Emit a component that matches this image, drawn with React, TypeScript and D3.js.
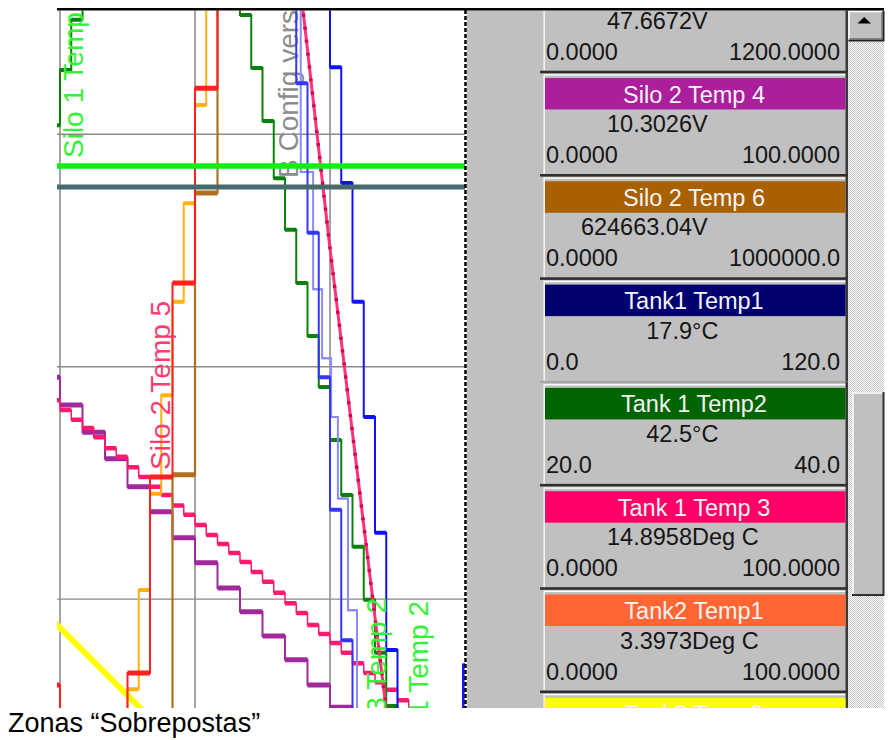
import React from "react";
import * as d3 from "d3";

type Pt = [number, number];

// x: sample index (grid every 12 samples), y: percent of the visible trend band
const gridTimes = [0, 12, 24];
const gridLevels = [15.6, 48.9, 82.2];

const greenSteps: Pt[] = [[-2, 83.5], [0, 91.4], [1, 98.6], [2, 110], [16, 99.3], [17, 91.7], [18, 84.1], [19, 75.9], [20, 68.5], [21, 60.9], [22, 53.3], [23, 46.0], [24, 38.4], [25, 30.5], [26, 23.1], [27, 15.5], [28, 7.9], [29, 0.3], [30, -8], [32, -8]];
const purpleSteps: Pt[] = [[-2, 47.4], [0, 43.4], [2, 39.5], [4, 35.7], [6, 31.7], [8, 28.1], [10, 24.4], [12, 20.8], [14, 17.2], [16, 13.8], [18, 10.3], [20, 6.9], [22, 3.3], [24, 0.1], [26, -3.4], [28, -3.4]];
const pinkSteps: Pt[] = [[-1, 44.1], [0, 42.7], [1, 41.3], [2, 40.1], [3, 38.8], [4, 37.2], [5, 36.0], [6, 34.5], [7, 33.1], [8, 31.7], [9, 30.5], [10, 29.0], [11, 27.7], [12, 26.2], [13, 24.8], [14, 23.5], [15, 22.2], [16, 20.9], [17, 19.5], [18, 18.1], [19, 16.5], [20, 15.0], [21, 13.6], [22, 11.9], [23, 10.6], [24, 9.3], [25, 7.9], [26, 6.4], [27, 5.0], [28, 3.7], [29, 2.6], [30, 1.1], [31, -0.3], [32, -1.7], [33, -1.7]];
const redSteps: Pt[] = [[-2, 3.3], [0, -5], [6, 5.0], [8, 33.1], [10, 60.9], [12, 88.8], [14, 110], [16, 110]];
const orangeSteps: Pt[] = [[4, -5], [6, 2.7], [7, 16.9], [8, 30.7], [9, 44.8], [10, 58.2], [11, 72.3], [12, 86.4], [13, 110], [15, 110]];
const brownSteps: Pt[] = [[6, -5], [10, 33.4], [12, 73.8], [14, 110], [16, 110]];
const blueSteps: Pt[] = [[22, 110], [24, 91.8], [25, 75.2], [26, 58.2], [27, 41.7], [28, 25.1], [29, 8.3], [30, -8], [32, -8]];
const blueEdgeSteps: Pt[] = [[34, -5], [35.85, 6.2], [37, 6.2]];
const blueMidSteps: Pt[] = [[20, 110], [21, 89.5], [22, 68.1], [23, 47.4], [24, 28.4], [25, 9.7], [26, -8], [28, -8]];
const blueLightSteps: Pt[] = [[20.9, 110], [21.4, 76.8], [22.5, 60.0], [23.3, 50.1], [24.1, 41.7], [24.7, 30.0], [25.6, 14.0], [26.4, -5], [28, -5]];
const pinkRamp: Pt[] = [[21.24, 105], [21.6, 100], [23.91, 67.05], [26.4, 34.1], [28.98, 0], [29.36, -5]];
const yellowRamp: Pt[] = [[-1, 13.1], [8, -1.4]];
const greenLevel: Pt[] = [[-1, 77.65], [37, 77.65]];
const slateLevel: Pt[] = [[-1, 74.64], [37, 74.64]];

const cardNames = ["Silo 2 Temp 3", "Silo 2 Temp 4", "Silo 2 Temp 6", "Tank1 Temp1", "Tank 1 Temp2", "Tank 1 Temp 3", "Tank2 Temp1", "Tank2 Temp2"];
const cardValues = ["47.6672", "10.3026", "624663.04", "17.9", "42.5", "14.8958", "3.3973", "0.0000"];
const cardUnits = ["V", "V", "V", "°C", "°C", "Deg C", "Deg C", "Deg C"];
const cardMins = ["0.0000", "0.0000", "0.0000", "0.0", "20.0", "0.0000", "0.0000", "0.0000"];
const cardMaxs = ["1200.0000", "100.0000", "1000000.0", "120.0", "40.0", "100.0000", "100.0000", "100.0000"];
const cardColors = ["#7a7a7a", "#ab1f9c", "#a86000", "#000070", "#006400", "#ff0066", "#ff6633", "#ffff00"];

const caption = "Zonas “Sobrepostas”";

const FONT = "'Liberation Sans', Arial, sans-serif";
const x = d3.scaleLinear().domain([-0.267, 36]).range([57, 465]);
const y = d3.scaleLinear().domain([0, 100]).range([708, 10]);

function StepSeries({ data, color, hw = 4, vw = 2 }: { data: Pt[]; color: string; hw?: number; vw?: number }) {
  const thin = d3.line<Pt>().x((d) => x(d[0])).y((d) => y(d[1])).curve(d3.curveStepAfter)(data) || "";
  const p = d3.path();
  for (let i = 0; i < data.length - 1; i++) {
    p.moveTo(x(data[i][0]), y(data[i][1]));
    p.lineTo(x(data[i + 1][0]), y(data[i][1]));
  }
  return (
    <g>
      <path d={thin} stroke={color} strokeWidth={vw} fill="none" />
      <path d={p.toString()} stroke={color} strokeWidth={hw} fill="none" />
    </g>
  );
}

function LineSeries({ data, color, w, dash }: { data: Pt[]; color: string; w: number; dash?: string }) {
  const d = d3.line<Pt>().x((p) => x(p[0])).y((p) => y(p[1]))(data) || "";
  return <path d={d} stroke={color} strokeWidth={w} fill="none" strokeDasharray={dash} />;
}

function RotLabel({ tx, ty, text, color, anchor = "start", size = 28 }: { tx: number; ty: number; text: string; color: string; anchor?: string; size?: number }) {
  return (
    <text transform={`translate(${tx},${ty}) rotate(-90)`} fontFamily={FONT} fontSize={size} fill={color} textAnchor={anchor}>
      {text}
    </text>
  );
}

const SEP0 = 72;
const PITCH = 103.3;

export default function App() {
  return (
    <svg width={888} height={740} style={{ position: "absolute", left: 0, top: 0 }} xmlns="http://www.w3.org/2000/svg">
      <defs>
        <clipPath id="plotClip">
          <rect x={57} y={10.5} width={408} height={697.5} />
        </clipPath>
        <clipPath id="panelClip">
          <rect x={467} y={10.5} width={421} height={697.5} />
        </clipPath>
        <pattern id="chk" width={2} height={2} patternUnits="userSpaceOnUse">
          <rect width={2} height={2} fill="#ffffff" />
          <rect width={1} height={1} fill="#c4c4c4" />
          <rect x={1} y={1} width={1} height={1} fill="#c4c4c4" />
        </pattern>
      </defs>
      <rect width={888} height={740} fill="#ffffff" />

      <g clipPath="url(#plotClip)">
        {gridTimes.map((t) => (
          <line key={"gt" + t} x1={x(t)} x2={x(t)} y1={10} y2={708} stroke="#8e8e8e" strokeWidth={1.6} />
        ))}
        {gridLevels.map((v) => (
          <line key={"gl" + v} x1={57} x2={465} y1={y(v)} y2={y(v)} stroke="#8a8a8a" strokeWidth={1.4} />
        ))}
        <RotLabel tx={298} ty={178} text="B Config version" color="#8c8c8c" />

        <LineSeries data={yellowRamp} color="#ffff00" w={6} />
        <StepSeries data={purpleSteps} color="#a02a9c" hw={5} vw={2} />
        <StepSeries data={pinkSteps} color="#ff1a6e" hw={4.5} vw={1.5} />
        <StepSeries data={brownSteps} color="#b0701e" hw={5} vw={2.2} />
        <StepSeries data={orangeSteps} color="#ffb20a" hw={4} vw={2} />
        <StepSeries data={redSteps} color="#ff2020" hw={5} vw={2} />
        <StepSeries data={greenSteps} color="#0b800b" hw={4} vw={2} />
        <StepSeries data={blueLightSteps} color="#8a8aff" hw={2} vw={2} />
        <StepSeries data={blueMidSteps} color="#3535ff" hw={4} vw={2} />
        <StepSeries data={blueSteps} color="#1010ff" hw={4} vw={2} />
        <StepSeries data={blueEdgeSteps} color="#1010ff" hw={3} vw={2.5} />
        <LineSeries data={pinkRamp} color="#ff3377" w={3} />
        <LineSeries data={pinkRamp} color="#d8004c" w={3.5} dash="3 10" />

        <LineSeries data={greenLevel} color="#0ff00f" w={5.5} />
        <LineSeries data={slateLevel} color="#476b6b" w={5} />

        <RotLabel tx={83} ty={158} text="Silo 1 Temp" color="#33f233" />
        <RotLabel tx={170} ty={470} text="Silo 2 Temp 5" color="#ff3a72" />
        <RotLabel tx={386} ty={598} text="Silo 3 Temp 2" color="#33f233" anchor="end" />
        <RotLabel tx={428} ty={601} text="Silo 1 Temp 2" color="#33f233" anchor="end" />
      </g>

      <line x1={465.5} x2={465.5} y1={10} y2={708} stroke="#000" strokeWidth={2.5} strokeDasharray="4 2" />

      <g clipPath="url(#panelClip)">
        <rect x={467} y={10} width={381} height={698} fill="#c0c0c0" />
        {cardNames.map((name, idx) => {
          const sep = SEP0 + (idx - 1) * PITCH;
          const selected = idx === 4;
          return (
            <g key={name}>
              {selected ? (
                <rect x={540} y={sep - 0.5} width={308} height={1} fill="#8c8c8c" />
              ) : (
                <rect x={540} y={sep - 1.3} width={308} height={2.6} fill="#2e2e2e" />
              )}
              <rect x={544} y={sep + 2.2} width={302} height={1.3} fill="#ffffff" />
              <rect x={543.5} y={sep + 2.2} width={1.3} height={PITCH - 3.5} fill="#ffffff" />
              <rect x={845.5} y={sep} width={2.5} height={PITCH} fill="#3a3a3a" />
              <rect x={545} y={sep + 6} width={300.5} height={31.5} fill={cardColors[idx]} />
              <text x={694} y={sep + 30.5} textAnchor="middle" fontFamily={FONT} fontSize={23.5} fill="#f4f4f4">
                {name}
              </text>
              <text x={692} y={sep + 60} textAnchor="end" fontFamily={FONT} fontSize={23.5} fill="#151515">
                {cardValues[idx]}
              </text>
              <text x={692} y={sep + 60} fontFamily={FONT} fontSize={23.5} fill="#151515">
                {cardUnits[idx]}
              </text>
              <text x={546} y={sep + 91} fontFamily={FONT} fontSize={23.5} fill="#151515">
                {cardMins[idx]}
              </text>
              <text x={840} y={sep + 91} textAnchor="end" fontFamily={FONT} fontSize={23.5} fill="#151515">
                {cardMaxs[idx]}
              </text>
            </g>
          );
        })}

        <rect x={848} y={10} width={36} height={698} fill="url(#chk)" />
        <rect x={848} y={10.5} width={35.5} height={30} fill="#c0c0c0" />
        <path d="M849,40 V11.5 H883" stroke="#ffffff" strokeWidth={1.5} fill="none" />
        <path d="M848.5,40.5 H883.5 V10.5" stroke="#202020" strokeWidth={2} fill="none" />
        <path d="M849.5,38.7 H881.8 V12" stroke="#808080" strokeWidth={1.3} fill="none" />
        <path d="M857.5,23.5 L871,23.5 L864.2,17 Z" fill="#000" />

        <rect x={852} y={392} width={32} height={203} fill="#c0c0c0" />
        <path d="M853,594 V393 H883" stroke="#ffffff" strokeWidth={1.5} fill="none" />
        <path d="M852,595 H883.5 V392" stroke="#303030" strokeWidth={2} fill="none" />
      </g>

      <line x1={57} x2={884} y1={9.3} y2={9.3} stroke="#000" strokeWidth={2.5} />

      <text x={8} y={732} fontFamily={FONT} fontSize={27} fill="#000">
        {caption}
      </text>
    </svg>
  );
}
